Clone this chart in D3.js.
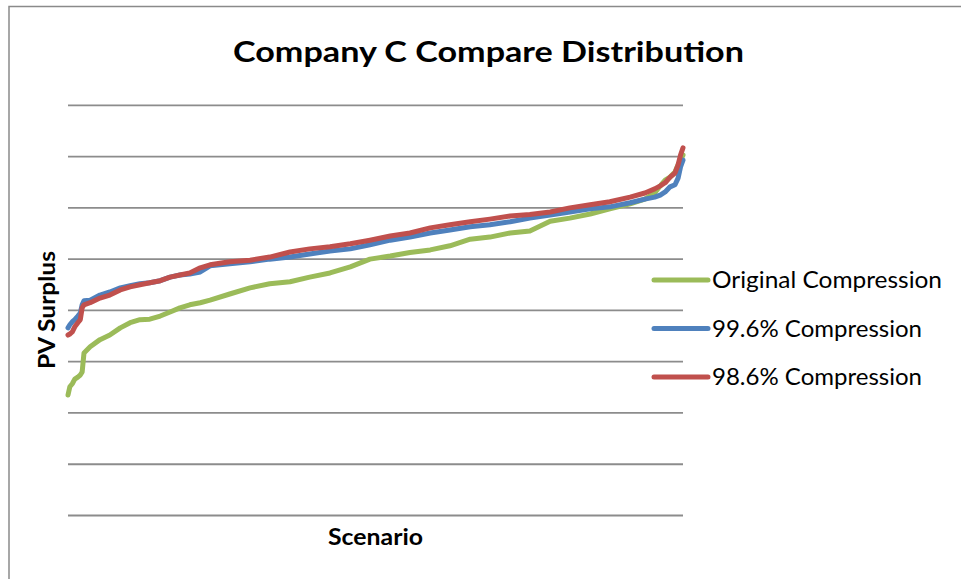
<!DOCTYPE html>
<html>
<head>
<meta charset="utf-8">
<script src="https://cdn.jsdelivr.net/npm/d3@7"></script>
<style>
  html, body { margin: 0; padding: 0; background: #fff; }
  svg { display: block; }
</style>
</head>
<body>
<div id="chart"></div>
<script>
// Sorted PV surplus by scenario for each compression level
const scenarios = [0, 3, 7, 11, 16, 20, 23, 26, 36, 52, 68, 85, 101, 117, 133, 150, 166, 182, 198, 215,
  231, 263, 296, 328, 361, 393, 426, 459, 491, 524, 556, 589, 621, 654, 686, 719, 751, 784, 816, 849,
  881, 914, 938, 954, 963, 971, 979, 987, 992, 996, 1000];

const originalCompression = [-166, -150, -144, -135, -131, -127, -121, -84, -72, -58, -49, -35, -25, -19, -18, -12, -4, 4, 10, 14,
  19, 31, 43, 51, 55, 64, 72, 84, 99, 105, 112, 117, 125, 138, 142, 150, 154, 173, 179, 187,
  197, 207, 216, 228, 242, 253, 259, 269, 283, 292, 302];

const compression996 = [-35, -29, -23, -19, -12, -6, 10, 18, 19, 29, 35, 43, 47, 51, 53, 57, 64, 68, 70, 74,
  86, 90, 94, 99, 103, 109, 115, 119, 127, 136, 142, 150, 156, 162, 166, 172, 179, 185, 191, 197,
  201, 209, 216, 220, 224, 230, 240, 244, 257, 279, 292];

const compression986 = [-49, -47, -43, -33, -25, -19, 4, 10, 14, 23, 29, 39, 45, 49, 53, 57, 64, 68, 72, 82,
  88, 94, 97, 103, 113, 119, 123, 129, 136, 144, 150, 160, 166, 172, 177, 183, 186, 191, 199, 205,
  211, 220, 228, 236, 242, 248, 259, 267, 283, 302, 316];

const seriesNames = ["Original Compression", "99.6% Compression", "98.6% Compression"];
const seriesColors = ["#9bbb59", "#4f81bd", "#c0504d"];
const gridValues = [-400, -300, -200, -100, 0, 100, 200, 300, 400];

const series = [originalCompression, compression996, compression986].map((vals, i) => ({
  name: seriesNames[i],
  color: seriesColors[i],
  points: scenarios.map((s, j) => ({ s, v: vals[j] }))
}));

const W = 961, H = 579;
const plot = { left: 68, right: 683, top: 104.8, bottom: 515 };
const FONT = "Lato, 'Open Sans', sans-serif";

const svg = d3.select("#chart").append("svg")
  .attr("width", W).attr("height", H);

// chart area border
svg.append("rect")
  .attr("x", 9).attr("y", 6.5)
  .attr("width", W + 20).attr("height", H + 20)
  .attr("fill", "#fff")
  .attr("stroke", "#8a8a8a").attr("stroke-width", 1.5);

const x = d3.scaleLinear().domain([0, 1000]).range([plot.left, plot.right]);
const y = d3.scaleLinear().domain([-400, 400]).range([plot.bottom, plot.top]);

// horizontal gridlines
const yAxis = d3.axisLeft(y).tickValues(gridValues)
  .tickSize(-(plot.right - plot.left)).tickFormat("");
const gy = svg.append("g").attr("transform", `translate(${plot.left},0)`).call(yAxis);
gy.select(".domain").remove();
gy.selectAll(".tick line").attr("stroke", "#8c8c8c").attr("stroke-width", 1.8);

// series lines
const line = d3.line().x(d => x(d.s)).y(d => y(d.v));
svg.append("g").selectAll("path").data(series).join("path")
  .attr("d", d => line(d.points))
  .attr("fill", "none")
  .attr("stroke", d => d.color)
  .attr("stroke-width", 5)
  .attr("stroke-linejoin", "round")
  .attr("stroke-linecap", "round");

// title
svg.append("text")
  .attr("x", 488.5).attr("y", 62)
  .attr("text-anchor", "middle")
  .attr("font-family", FONT)
  .attr("font-weight", "bold")
  .attr("font-size", 29)
  .attr("textLength", 511).attr("lengthAdjust", "spacingAndGlyphs")
  .attr("fill", "#000")
  .text("Company C Compare Distribution");

// axis titles
svg.append("text")
  .attr("x", 375.5).attr("y", 545)
  .attr("text-anchor", "middle")
  .attr("font-family", FONT)
  .attr("font-weight", "bold")
  .attr("font-size", 22)
  .attr("textLength", 95).attr("lengthAdjust", "spacingAndGlyphs")
  .attr("fill", "#000")
  .text("Scenario");

svg.append("text")
  .attr("transform", "translate(55,310) rotate(-90)")
  .attr("text-anchor", "middle")
  .attr("font-family", FONT)
  .attr("font-weight", "bold")
  .attr("font-size", 22)
  .attr("textLength", 118).attr("lengthAdjust", "spacingAndGlyphs")
  .attr("fill", "#000")
  .text("PV Surplus");

// legend
const legendY = [280, 328.5, 377];
const legendWidths = [230, 210, 210];
const lg = svg.append("g").selectAll("g").data(series).join("g")
  .attr("transform", (d, i) => `translate(652,${legendY[i]})`);
lg.append("line")
  .attr("x1", 2).attr("x2", 56).attr("y1", 0).attr("y2", 0)
  .attr("stroke", d => d.color).attr("stroke-width", 5)
  .attr("stroke-linecap", "round");
lg.append("text")
  .attr("x", 60).attr("y", 0).attr("dy", "0.36em")
  .attr("font-family", FONT)
  .attr("font-size", 23)
  .attr("textLength", (d, i) => legendWidths[i]).attr("lengthAdjust", "spacingAndGlyphs")
  .attr("fill", "#000")
  .text(d => d.name);
</script>
</body>
</html>
